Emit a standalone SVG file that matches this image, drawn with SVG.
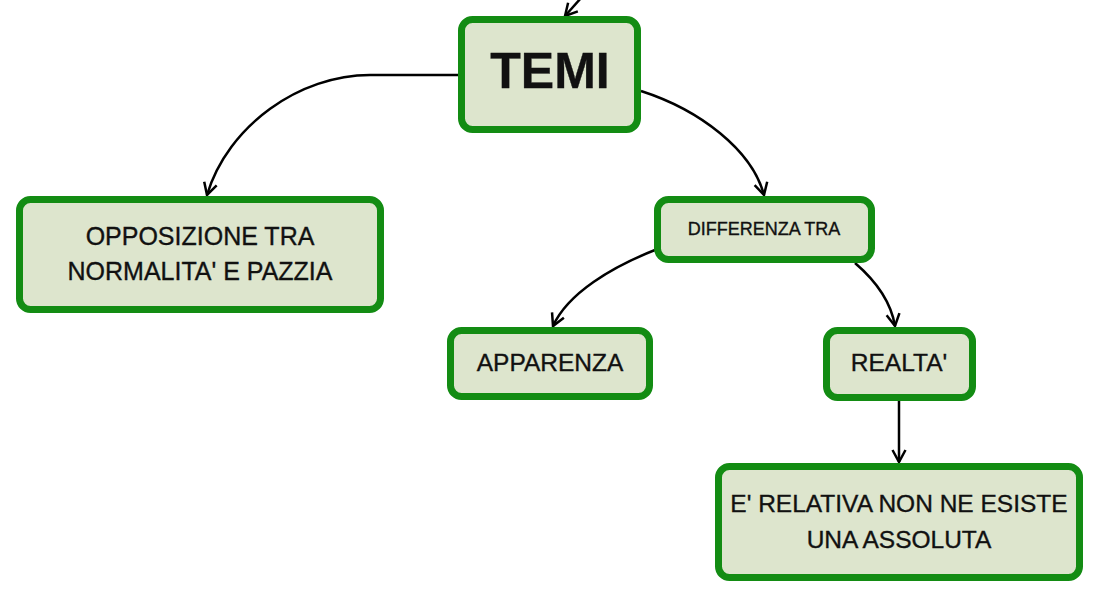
<svg xmlns="http://www.w3.org/2000/svg" width="1100" height="598" viewBox="0 0 1100 598">
<style>
.node rect{fill:#dde5cd;stroke:#138c13;stroke-width:7}
.node text{font-family:"Liberation Sans","DejaVu Sans",sans-serif;fill:#111;stroke:#111;stroke-width:0.35;text-anchor:middle}
.conn path{fill:none;stroke:#000;stroke-width:2.5}
</style>
<defs>
<marker id="arr" markerUnits="userSpaceOnUse" markerWidth="18" markerHeight="18" viewBox="0 0 18 18" refX="16" refY="9" orient="auto">
<path d="M4,2.5 L16,9 L4,15.5" fill="none" stroke="#000" stroke-width="2.5" stroke-linejoin="miter"/>
</marker>
</defs>
<rect width="1100" height="598" fill="#fff"/>
<g class="conn">
<path d="M581,-2 L565,16" marker-end="url(#arr)"/>
<path d="M458,75 L370,75 C300,75 228,125 207,195" marker-end="url(#arr)"/>
<path d="M641,91 C700,110 752,150 764,195" marker-end="url(#arr)"/>
<path d="M655,250 C612,267 568,293 553,326" marker-end="url(#arr)"/>
<path d="M855,263 C876,281 891,302 895,326" marker-end="url(#arr)"/>
<path d="M899,401 L899,462" marker-end="url(#arr)"/>
</g>
<g id="temi" class="node">
<rect x="461.5" y="19.5" width="176" height="110" rx="11"/>
<text x="550" y="88" font-size="50" font-weight="bold" stroke-width="0">TEMI</text>
</g>
<g id="opposizione" class="node">
<rect x="19.5" y="199.5" width="361" height="110" rx="11"/>
<text x="200" y="245" font-size="25">OPPOSIZIONE TRA</text>
<text x="200" y="280" font-size="25">NORMALITA' E PAZZIA</text>
</g>
<g id="differenza" class="node">
<rect x="657.5" y="199.5" width="214" height="60" rx="11"/>
<text x="764" y="235" font-size="18">DIFFERENZA TRA</text>
</g>
<g id="apparenza" class="node">
<rect x="450.5" y="330.5" width="199" height="66" rx="11"/>
<text x="550" y="371" font-size="24.5">APPARENZA</text>
</g>
<g id="realta" class="node">
<rect x="826.5" y="330.5" width="146" height="67" rx="11"/>
<text x="899" y="371" font-size="24.5">REALTA'</text>
</g>
<g id="relativa" class="node">
<rect x="718.5" y="466.5" width="361" height="111" rx="11"/>
<text x="899" y="512" font-size="24.5">E' RELATIVA NON NE ESISTE</text>
<text x="899" y="548" font-size="24.5">UNA ASSOLUTA</text>
</g>
</svg>
